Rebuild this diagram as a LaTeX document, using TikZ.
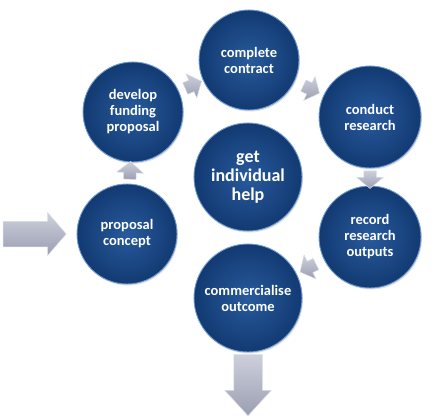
\documentclass[tikz,border=0pt]{standalone}
\usepackage{fontspec}
\setmainfont{Carlito}
\usetikzlibrary{shapes.arrows,positioning,shadows}
\definecolor{navyhi}{HTML}{285A9C}
\definecolor{navylo}{HTML}{123A72}
\definecolor{navyrim}{HTML}{6F9AD0}
\definecolor{greyhi}{HTML}{CDD0DB}
\definecolor{greylo}{HTML}{9A9EB2}
\definecolor{greyrim}{HTML}{DADCE4}

\begin{document}
\begin{tikzpicture}[x=1pt,y=-1pt,
    stage/.style={circle, minimum size=100pt, inner sep=0pt, align=center,
        text=white, font=\bfseries\fontsize{14.5}{16}\selectfont,
        inner color=navyhi, outer color=navylo, draw=navyrim, line width=0.9pt,
        drop shadow={opacity=0.25, shadow xshift=1pt, shadow yshift=-1.5pt}},
    hub/.style={stage, minimum size=108pt, font=\bfseries\fontsize{18}{19}\selectfont},
    flowarrow/.style={single arrow, inner sep=6pt, minimum height=15pt,
        single arrow head extend=7pt, single arrow tip angle=100,
        top color=greyhi, bottom color=greylo, draw=greyrim, line width=0.5pt},
    bigarrow/.style={single arrow, inner sep=12.5pt, minimum height=63pt,
        single arrow head extend=8.5pt, single arrow tip angle=98,
        top color=greyhi, bottom color=greylo, draw=greyrim, line width=0.5pt}]
    \useasboundingbox (0,0) rectangle (437,420);
    % the cycle of stages
    \node[stage] (dev) at (133,112) {develop\\funding\\proposal};
    \node[stage] (con) at (249,60) {complete\\contract};
    \node[stage, minimum size=102pt] (res) at (370,117) {conduct\\research};
    \node[stage, minimum size=102pt] (rec) at (370,237) {record\\research\\outputs};
    \node[stage, minimum size=108pt] (com) at (248,298) {commercialise\\outcome};
    \node[stage] (pro) at (127,234) {proposal\\concept};
    \node[hub] (help) at (248,177) {get\\individual\\help};
    % small arrows between the stages
    \path (pro) -- node[flowarrow, sloped, allow upside down] {} (dev);
    \path (dev) -- node[flowarrow, sloped, allow upside down] {} (con);
    \path (con) -- node[flowarrow, sloped, allow upside down] {} (res);
    \path (res) -- node[flowarrow, sloped, allow upside down] {} (rec);
    \path (rec) -- node[flowarrow, sloped, allow upside down] {} (com);
    % way in and way out
    \node[bigarrow, left=10pt of pro] (in) {};
    \node[bigarrow, shape border rotate=270, minimum height=61pt, inner sep=14pt,
        single arrow head extend=9pt, single arrow tip angle=85,
        below=2pt of com] (out) {};
\end{tikzpicture}
\end{document}
